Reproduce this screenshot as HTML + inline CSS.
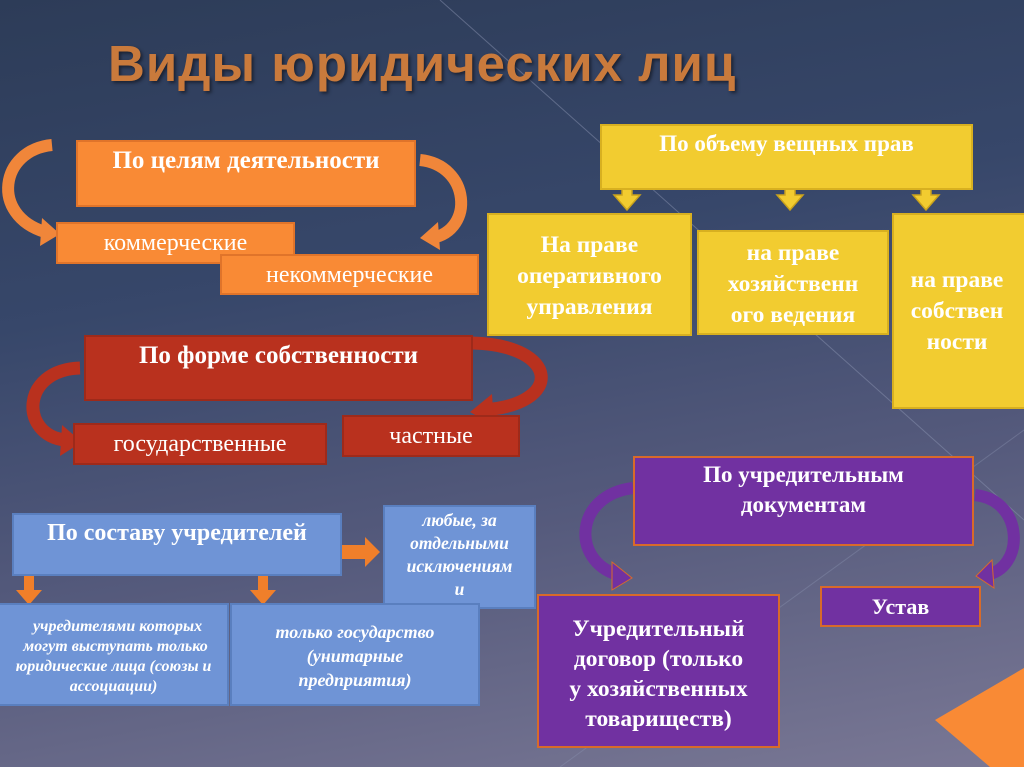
<!DOCTYPE html>
<html><head><meta charset="utf-8"><style>
body{margin:0;width:1024px;height:767px;overflow:hidden;position:relative;
background:linear-gradient(170deg,#2d3c58 0%,#37476a 35%,#555a7c 65%,#7a7895 100%);
font-family:"Liberation Serif","Noto Serif CJK SC",serif;}
.b{position:absolute;box-sizing:border-box;color:#fff;text-align:center;}
.o{background:#f98a35;border:2px solid #e0742a;}
.r{background:#b9311e;border:2px solid #9e2a1a;}
.y{background:#f2cc30;border:2px solid #d8b020;font-weight:bold;}
.bl{background:#6f94d6;border:2px solid #5a7fbf;}
.p{background:#7131a1;border:2px solid #d86a2a;font-weight:bold;}
h1{position:absolute;left:108px;top:34px;margin:0;font:bold 51px "Liberation Sans",sans-serif;color:#c97a3c;text-shadow:2px 2px 3px #1b2233;letter-spacing:1px}
svg{position:absolute;left:0;top:0}
</style></head><body>
<svg width="1024" height="767">
<line x1="440" y1="0" x2="1024" y2="520" stroke="#8a93b0" stroke-width="1" opacity=".5"/>
<line x1="560" y1="767" x2="1024" y2="430" stroke="#8a93b0" stroke-width="1" opacity=".4"/>
<polygon points="935,720 1024,668 1024,767 990,767" fill="#f98a35"/>
<g fill="none" stroke-linecap="butt">
<path d="M52,145 C0,150 -10,215 45,232" stroke="#f0863a" stroke-width="12"/>
<path d="M420,160 C470,165 475,230 432,238" stroke="#f0863a" stroke-width="12"/>
<path d="M80,368 C20,370 20,435 65,440" stroke="#b9311e" stroke-width="13"/>
<path d="M472,343 C560,345 565,405 482,410" stroke="#b9311e" stroke-width="13"/>
<path d="M633,488 C575,495 570,560 618,575" stroke="#7131a1" stroke-width="12"/>
<path d="M975,495 C1025,500 1025,570 985,575" stroke="#7131a1" stroke-width="12"/>
</g>
<polygon points="42,218 60,234 40,246" fill="#f0863a"/>
<polygon points="438,222 420,238 440,250" fill="#f0863a"/>
<polygon points="62,425 82,442 60,456" fill="#b9311e"/>
<polygon points="492,394 470,412 494,426" fill="#b9311e"/>
<polygon points="612,562 632,578 612,590" fill="#7131a1" stroke="#d86a2a"/>
<polygon points="992,560 976,576 994,588" fill="#7131a1" stroke="#d86a2a"/>
<g fill="#f2cc30" stroke="#c9a21c" stroke-width="1.5">
<polygon points="622,172 632,172 632,195 640,195 627,210 614,195 622,195"/>
<polygon points="785,172 795,172 795,195 803,195 790,210 777,195 785,195"/>
<polygon points="921,172 931,172 931,195 939,195 926,210 913,195 921,195"/>
</g>
<g fill="#f07f2a">
<polygon points="24,568 34,568 34,590 42,590 29,605 16,590 24,590"/>
<polygon points="258,568 268,568 268,590 276,590 263,605 250,590 258,590"/>
<polygon points="340,545 365,545 365,537 380,552 365,567 365,559 340,559"/>
</g>
</svg>
<h1>Виды юридических лиц</h1>
<div class="b o" style="left:76px;top:140px;width:340px;height:67px;font-weight:bold;font-size:25px;padding-top:5px">По целям деятельности</div>
<div class="b o" style="left:56px;top:222px;width:239px;height:42px;font-size:24px;padding-top:6px">коммерческие</div>
<div class="b o" style="left:220px;top:254px;width:259px;height:41px;font-size:24px;padding-top:6px">некоммерческие</div>
<div class="b r" style="left:84px;top:335px;width:389px;height:66px;font-weight:bold;font-size:25px;padding-top:5px">По форме собственности</div>
<div class="b r" style="left:73px;top:423px;width:254px;height:42px;font-size:24px;padding-top:6px">государственные</div>
<div class="b r" style="left:342px;top:415px;width:178px;height:42px;font-size:24px;padding-top:6px">частные</div>
<div class="b y" style="left:600px;top:124px;width:373px;height:66px;font-size:23px;padding-top:5px">По объему вещных прав</div>
<div class="b y" style="left:487px;top:213px;width:205px;height:123px;font-size:23.5px;line-height:31px;padding-top:15px">На праве<br>оперативного<br>управления</div>
<div class="b y" style="left:697px;top:230px;width:192px;height:105px;font-size:23.5px;line-height:31px;padding-top:6px">на праве<br>хозяйственн<br>ого ведения</div>
<div class="b y" style="left:892px;top:213px;width:140px;height:196px;font-size:23.5px;line-height:31px;padding:50px 10px 0 0">на праве<br>собствен<br>ности</div>
<div class="b bl" style="left:12px;top:513px;width:330px;height:63px;font-weight:bold;font-size:24px;padding-top:5px">По составу учредителей</div>
<div class="b bl" style="left:383px;top:505px;width:153px;height:104px;font-style:italic;font-weight:bold;font-size:17.5px;line-height:23px;padding-top:2px">любые, за<br>отдельными<br>исключениям<br>и</div>
<div class="b bl" style="left:-2px;top:603px;width:231px;height:103px;font-style:italic;font-weight:bold;font-size:16px;line-height:20px;padding-top:12px;white-space:nowrap;overflow:hidden">&nbsp;&nbsp;учредителями которых<br>&nbsp;могут выступать только<br>юридические лица (союзы и<br>ассоциации)</div>
<div class="b bl" style="left:230px;top:603px;width:250px;height:103px;font-style:italic;font-weight:bold;font-size:18px;line-height:24px;padding-top:15px">только государство<br>(унитарные<br>предприятия)</div>
<div class="b p" style="left:633px;top:456px;width:341px;height:90px;font-size:23px;line-height:30px;padding-top:2px">По учредительным<br>документам</div>
<div class="b p" style="left:537px;top:594px;width:243px;height:154px;font-size:23.5px;line-height:30px;padding-top:18px">Учредительный<br>договор (только<br>у хозяйственных<br>товариществ)</div>
<div class="b p" style="left:820px;top:586px;width:161px;height:41px;font-size:22px;padding-top:6px">Устав</div>
</body></html>
